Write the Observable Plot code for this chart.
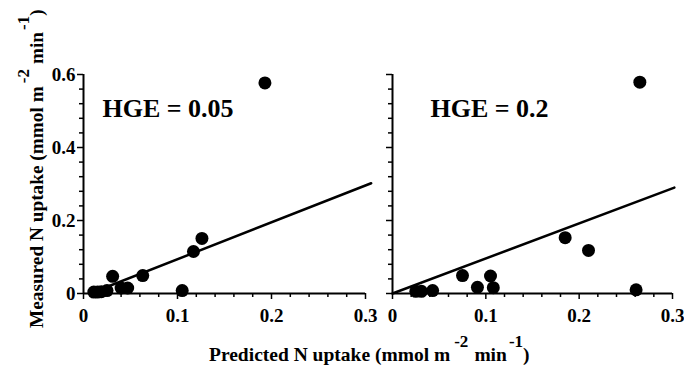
<!DOCTYPE html>
<html>
<head>
<meta charset="utf-8">
<script src="https://cdn.jsdelivr.net/npm/d3@7"></script>
<script src="https://cdn.jsdelivr.net/npm/@observablehq/plot@0.6"></script>
<style>
  html, body { margin: 0; padding: 0; background: white; }
  #wrap { position: relative; width: 684px; height: 368px; overflow: hidden; background: white; }
  .panel { position: absolute; top: 0; }
  .ttl { position: absolute; font-family: 'Liberation Serif', 'Times New Roman', serif; font-weight: bold; font-size: 19.5px; line-height: 19px; white-space: nowrap; color: black; }
  .sup { position: relative; top: -14px; font-size: 17px; }
  #ytitle { transform-origin: 0 0; transform: rotate(-90deg); font-size: 19.3px; }
</style>
</head>
<body>
<div id="wrap">
  <div class="panel" id="p1" style="left:0px"></div>
  <div class="panel" id="p2" style="left:380px"></div>
  <div class="ttl" id="xtitle" style="left:209px; top:345px">Predicted N uptake (mmol m<span class="sup" style="margin-left:4px">-2</span><span style="margin-left:6px">min</span><span class="sup" style="margin-left:2px">-1</span><span style="margin-left:0px">)</span></div>
  <div class="ttl" id="ytitle" style="left:27px; top:328px">Measured N uptake (mmol m<span class="sup" style="margin-left:3px">-2</span><span style="margin-left:5px">min</span><span class="sup" style="margin-left:2px">-1</span><span style="margin-left:0px">)</span></div>
</div>
<script>
// Axis domains and ticks
const xDomain = [0, 0.3];
const yDomain = [0, 0.6];
const xMajor = [0, 0.1, 0.2, 0.3];
const xMajorLabels = ["0", "0.1", "0.2", "0.3"];
const xMinor = [0.02, 0.04, 0.06, 0.08, 0.12, 0.14, 0.16, 0.18, 0.22, 0.24, 0.26, 0.28];
const yMajor = [0, 0.2, 0.4, 0.6];
const yMajorLabels = ["0", "0.2", "0.4", "0.6"];
const yMinor = [0.04, 0.08, 0.12, 0.16, 0.24, 0.28, 0.32, 0.36, 0.44, 0.48, 0.52, 0.56];

const panelLabels = ["HGE = 0.05", "HGE = 0.2"];

// HGE = 0.05 panel: predicted (x) vs measured (y)
const lowPredicted = [0.011, 0.015, 0.019, 0.025, 0.031, 0.040, 0.047, 0.063, 0.105, 0.117, 0.126, 0.193];
const lowMeasured  = [0.004, 0.004, 0.005, 0.008, 0.047, 0.015, 0.015, 0.049, 0.008, 0.115, 0.151, 0.577];
// fitted line endpoints
const lowFitX = [0.007, 0.306];
const lowFitY = [0.0, 0.302];

// HGE = 0.2 panel
const highPredicted = [0.025, 0.031, 0.043, 0.075, 0.091, 0.105, 0.108, 0.185, 0.210, 0.261, 0.265];
const highMeasured  = [0.006, 0.006, 0.008, 0.049, 0.017, 0.048, 0.016, 0.153, 0.118, 0.010, 0.579];
const highFitX = [0.0, 0.302];
const highFitY = [0.0, 0.290];

const serif = "'Liberation Serif', 'Times New Roman', serif";

function panel(xs, ys, fx, fy, label, showYLabels, opts) {
  const pts = xs.map((x, i) => ({x, y: ys[i]}));
  const fit = fx.map((x, i) => ({x, y: fy[i]}));
  return Plot.plot({
    width: opts.width,
    height: 368,
    marginLeft: opts.marginLeft,
    marginRight: opts.marginRight,
    marginTop: 74,
    marginBottom: 75,
    x: {domain: xDomain},
    y: {domain: yDomain},
    style: {
      fontFamily: serif,
      fontSize: "19px",
      fontWeight: "bold",
      background: "transparent",
      color: "black",
      overflow: "visible"
    },
    marks: [
      Plot.axisY({ticks: yMinor, tickSize: 4, tickFormat: () => "", strokeWidth: 1.5, label: null}),
      Plot.axisY({ticks: yMajor, tickSize: 6, tickPadding: 2, strokeWidth: 1.5, label: null,
        fontFamily: serif, fontWeight: "bold", fontSize: 19,
        tickFormat: showYLabels ? (d) => yMajorLabels[yMajor.indexOf(d)] : () => ""}),
      Plot.axisX({ticks: xMinor, tickSize: 4, tickFormat: () => "", strokeWidth: 1.5, label: null}),
      Plot.axisX({ticks: xMajor, tickSize: 6, tickPadding: 9, strokeWidth: 1.5, label: null,
        fontFamily: serif, fontWeight: "bold", fontSize: 19,
        tickFormat: (d) => xMajorLabels[xMajor.indexOf(d)]}),
      Plot.ruleX([xDomain[0]], {y1: yDomain[0], y2: yDomain[1], strokeWidth: 2}),
      Plot.ruleY([yDomain[0]], {x1: xDomain[0], x2: xDomain[1], strokeWidth: 2}),
      Plot.line(fit, {x: "x", y: "y", stroke: "black", strokeWidth: 2.5}),
      Plot.dot(pts, {x: "x", y: "y", r: 6.5, fill: "black", stroke: null}),
      Plot.text([label], {text: d => d, frameAnchor: "top-left", dx: opts.labelDx, dy: 34,
        fontSize: 26, fontFamily: serif, fontWeight: "bold",
        textAnchor: "start", lineAnchor: "middle", fill: "black"})
    ]
  });
}

document.getElementById("p1").appendChild(
  panel(lowPredicted, lowMeasured, lowFitX, lowFitY, panelLabels[0], true,
    {width: 380, marginLeft: 83, marginRight: 15, labelDx: 19}));
document.getElementById("p2").appendChild(
  panel(highPredicted, highMeasured, highFitX, highFitY, panelLabels[1], false,
    {width: 304, marginLeft: 12, marginRight: 12, labelDx: 38}));
</script>
</body>
</html>
